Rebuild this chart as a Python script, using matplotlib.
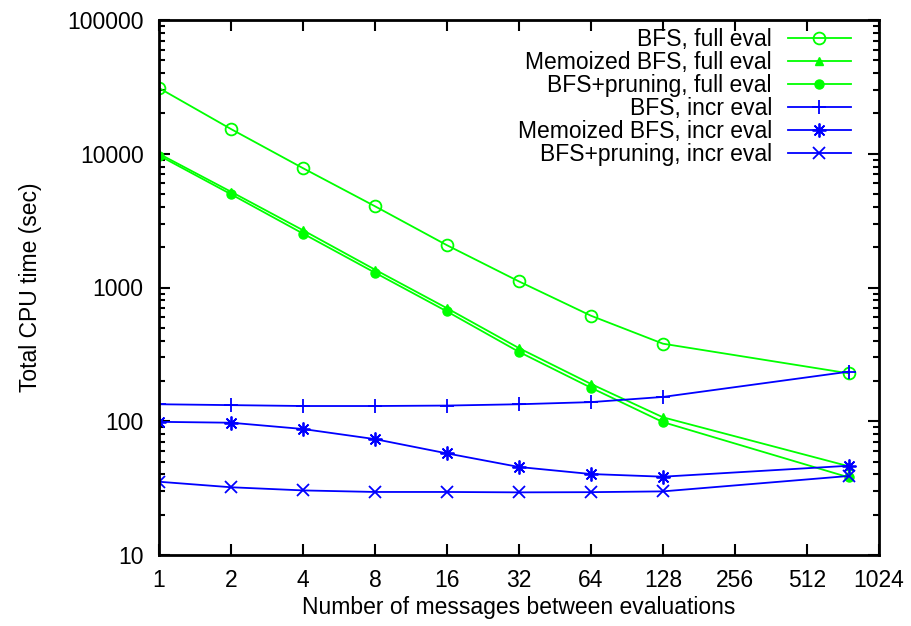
import matplotlib
matplotlib.use("Agg")
import matplotlib.pyplot as plt
from matplotlib.ticker import FixedLocator, FixedFormatter, LogLocator, NullFormatter, NullLocator

plt.rcParams['font.family'] = ['Liberation Sans', 'DejaVu Sans']

x = [1, 2, 4, 8, 16, 32, 64, 128, 768]
bfs_full = [31000, 15300, 7800, 4050, 2070, 1110, 615, 380, 228]
memo_full = [10000, 5200, 2680, 1360, 700, 352, 190, 107, 46]
prune_full = [9700, 4980, 2530, 1290, 662, 330, 178, 98.5, 38]
bfs_incr = [134, 132, 130, 130, 131, 134, 139, 152, 235]
memo_incr = [99, 97.5, 87.5, 73.5, 57.5, 45.5, 40.3, 38.5, 46.5]
prune_incr = [35.3, 32.1, 30.4, 29.6, 29.6, 29.4, 29.5, 29.9, 39]

xticks = [1, 2, 4, 8, 16, 32, 64, 128, 256, 512, 1024]
yticks = [10, 100, 1000, 10000, 100000]

GREEN = '#00ff00'
BLUE = '#0000ff'
FS = 16.5

fig = plt.figure(figsize=(9.12, 6.26), dpi=100)
ax = fig.add_axes([159/912, 1-555/626, 720/912, 535/626])

lw = 1.3
ax.plot(x, bfs_full, color=GREEN, lw=lw, marker='o', mfc='none', mec=GREEN, ms=8.5, mew=1.3, label='BFS, full eval')
ax.plot(x, memo_full, color=GREEN, lw=lw, marker='^', mfc=GREEN, mec=GREEN, ms=6, label='Memoized BFS, full eval')
ax.plot(x, prune_full, color=GREEN, lw=lw, marker='o', mfc=GREEN, mec=GREEN, ms=6.5, label='BFS+pruning, full eval')
ax.plot(x, bfs_incr, color=BLUE, lw=lw, marker='+', ms=10, mew=1.3, label='BFS, incr eval')
ax.plot(x, memo_incr, color=BLUE, lw=lw, marker=(8, 2, 0), ms=10, mew=1.3, label='Memoized BFS, incr eval')
ax.plot(x, prune_incr, color=BLUE, lw=lw, marker='x', ms=8, mew=1.3, label='BFS+pruning, incr eval')

ax.set_xscale('log', base=2)
ax.set_yscale('log')
ax.set_xlim(1, 1024)
ax.set_ylim(10, 100000)
ax.xaxis.set_major_locator(FixedLocator(xticks))
ax.xaxis.set_major_formatter(FixedFormatter([str(t) for t in xticks]))
ax.xaxis.set_minor_locator(NullLocator())
ax.yaxis.set_major_locator(FixedLocator(yticks))
ax.yaxis.set_major_formatter(FixedFormatter([str(t) for t in yticks]))
ax.yaxis.set_minor_locator(LogLocator(base=10, subs=range(2, 10)))
ax.yaxis.set_minor_formatter(NullFormatter())

ax.tick_params(which='both', direction='in', top=True, right=True, labelsize=FS, width=1.5, color='black')
ax.tick_params(which='major', length=8)
ax.tick_params(axis='y', which='major', pad=11)
ax.tick_params(axis='x', which='major', pad=10)
ax.tick_params(which='minor', length=4)
for s in ax.spines.values():
    s.set_linewidth(2)

ax.set_xlabel('Number of messages between evaluations', fontsize=FS, labelpad=3)
ax.set_ylabel('Total CPU time (sec)', fontsize=FS, labelpad=18)

leg = ax.legend(loc='upper right', markerfirst=False, frameon=False, fontsize=FS,
                handlelength=2.75, handletextpad=0.7, labelspacing=0.0,
                borderaxespad=0.0, borderpad=0.0, bbox_to_anchor=(1 - 28/720, 1 - 8/535))

fig.savefig('out.png', dpi=100)
